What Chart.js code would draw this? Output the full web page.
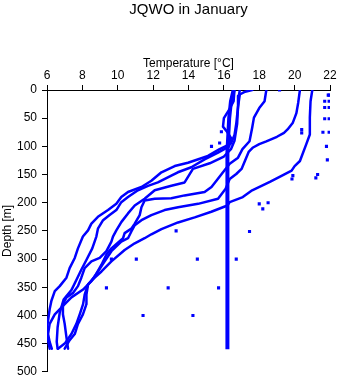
<!DOCTYPE html>
<html>
<head>
<meta charset="utf-8">
<script src="https://cdn.jsdelivr.net/npm/chart.js@4"></script>
<style>
  html, body { margin: 0; padding: 0; background: #fff; }
</style>
</head>
<body>
<canvas id="chart1" width="341" height="384"></canvas>
<script>
// CTD casts, January: temperature (degC) against depth (m)
var castATemp  = [16.9, 16.85, 16.8, 16.7, 16.6, 16.4, 15.76, 15.1, 13.97, 13.22, 12.47, 11.9, 11.34, 10.58, 10.2, 9.92, 9.45, 8.88, 8.51, 8.32, 8.03, 7.75, 7.57, 7.28, 7.1, 6.72, 6.44, 6.25, 6.15, 6.06, 6.0, 6.06, 6.15];
var castADepth = [0, 10, 30, 60, 80, 95, 105, 117, 129, 135, 146, 161, 172, 181, 190, 202, 213, 225, 237, 249, 260, 281, 298, 316, 333, 348, 357, 374, 389, 409, 421, 444, 459];

var castBTemp  = [16.6, 16.55, 16.3, 16.0, 15.95, 16.2, 16.4, 16.3, 15.67, 14.91, 14.16, 13.4, 13.03, 12.27, 11.71, 11.14, 10.58, 10.2, 9.92, 9.54, 9.17, 8.88, 8.79, 8.56, 8.22, 7.94, 7.66, 7.38, 6.94, 6.72, 6.6, 6.55, 6.6];
var castBDepth = [0, 20, 35, 50, 65, 75, 85, 100, 111, 123, 137, 146, 152, 164, 170, 178, 190, 199, 213, 222, 231, 246, 260, 281, 302, 319, 337, 355, 372, 395, 421, 447, 459];

var castCTemp  = [17.6, 17.2, 16.9, 16.8, 16.75, 16.6, 16.4, 16.0, 15.2, 14.25, 13.78, 13.03, 12.09, 11.52, 10.96, 10.58, 10.21, 9.92, 9.73, 9.64, 9.36, 8.98, 8.51, 8.13, 7.94, 7.75, 7.47, 7.1, 6.9, 6.9, 7.0, 7.1, 7.19];
var castCDepth = [0, 3, 8, 30, 60, 90, 105, 118, 130, 140, 164, 170, 178, 193, 205, 219, 234, 249, 260, 269, 286, 298, 304, 316, 333, 348, 360, 368, 380, 398, 415, 439, 459];

var castDTemp  = [18.4, 18.3, 18.0, 17.7, 17.6, 17.45, 17.05, 16.8, 16.33, 15.95, 15.6, 15.3, 14.91, 13.78, 13.03, 12.09, 11.52, 11.34, 11.24, 10.96, 10.77, 10.39, 10.3, 9.64, 9.36, 9.08, 8.7, 8.32, 8.23, 8.23, 8.03, 7.75, 7.57, 7.28, 7.0];
var castDDepth = [0, 20, 32, 49, 67, 91, 105, 120, 131, 146, 160, 172, 181, 187, 192, 193, 196, 208, 222, 237, 246, 254, 263, 281, 292, 310, 331, 345, 363, 380, 398, 415, 433, 444, 459];

var castETemp  = [20.3, 20.2, 20.1, 19.9, 19.6, 19.4, 19.0, 18.4, 18.0, 17.65, 17.4, 17.2, 17.0, 16.7, 16.33, 16.1, 15.67, 14.54, 13.41, 12.65, 11.9, 11.34, 10.96, 10.77, 10.58, 10.2, 9.64, 9.26, 8.88, 8.51, 8.04, 7.38, 6.81, 6.44, 6.15, 6.06, 6.15, 6.27];
var castEDepth = [0, 23, 41, 58, 70, 76, 83, 91, 96, 102, 110, 125, 140, 149, 158, 175, 193, 202, 208, 213, 222, 231, 240, 251, 263, 269, 286, 304, 322, 339, 354, 368, 386, 398, 415, 433, 447, 459];

var castFTemp  = [21.0, 20.9, 20.86, 20.86, 20.66, 20.3, 20.0, 19.83, 19.15, 18.6, 17.6, 17.07, 16.33, 16.2, 15.29, 14.35, 13.41, 12.47, 11.9, 11.52, 10.96, 10.39, 9.64, 9.08, 8.7, 8.32, 8.13, 8.04, 7.85, 7.66, 7.38, 7.0, 6.62];
var castFDepth = [0, 20, 49, 79, 96, 126, 135, 143, 154, 163, 178, 190, 199, 205, 216, 226, 235, 247, 256, 263, 272, 284, 304, 322, 333, 345, 363, 380, 398, 415, 433, 450, 459];

// well mixed cast, almost constant temperature
var castGTemp  = [16.55, 16.4, 16.3, 16.25, 16.2, 16.2, 16.18, 16.2, 16.2, 16.22, 16.2, 16.2];
var castGDepth = [0, 20, 50, 80, 110, 150, 200, 250, 300, 350, 400, 460];

// bottle samples (single points)
var bottleTemp  = [21.9, 21.95, 21.7, 21.95, 21.7, 21.95, 21.7, 21.95, 21.6, 21.95, 21.8, 21.85, 21.2, 21.3, 20.4, 20.4, 19.9, 19.85, 19.15, 18.0, 18.5, 18.2, 15.86, 15.76, 15.3, 17.45, 13.3, 9.64, 11.05, 14.5, 16.7, 9.36, 12.85, 15.7, 11.43, 14.25];
var bottleDepth = [9, 9, 20, 20, 31, 31, 51, 51, 75, 75, 100, 124, 156, 150, 70, 76, 152, 158, 0, 202, 200, 211, 74, 94, 100, 251, 250, 300, 300, 300, 300, 351, 351, 351, 400, 400];

var tempTicks = [6, 8, 10, 12, 14, 16, 18, 20, 22];
var depthTicks = [0, 50, 100, 150, 200, 250, 300, 350, 400, 450, 500];

var casts = [
  [castATemp, castADepth],
  [castBTemp, castBDepth],
  [castCTemp, castCDepth],
  [castDTemp, castDDepth],
  [castETemp, castEDepth],
  [castFTemp, castFDepth]
];

function pairs(t, d) {
  return t.map(function (v, i) { return { x: v, y: d[i] }; });
}

var font = { family: "'Liberation Sans', Arial, sans-serif", size: 12 };

var datasets = casts.map(function (c) {
  return {
    data: pairs(c[0], c[1]),
    showLine: true,
    borderColor: '#0000ff',
    borderWidth: 2.5,
    pointRadius: 0,
    borderJoinStyle: 'round',
    borderCapStyle: 'round',
    tension: 0
  };
});
datasets.push({
  data: pairs(castGTemp, castGDepth),
  showLine: true,
  borderColor: '#0000ff',
  borderWidth: 4,
  pointRadius: 0,
  tension: 0
});
datasets.push({
  data: pairs(bottleTemp, bottleDepth),
  showLine: false,
  pointStyle: 'rect',
  pointRadius: 2.2,
  borderWidth: 0,
  backgroundColor: '#0000ff'
});

new Chart("chart1", {
  type: "scatter",
  data: { datasets: datasets },
  options: {
    responsive: false,
    animation: false,
    layout: { padding: { left: 0, right: 11, top: 0, bottom: 9 } },
    plugins: {
      legend: { display: false },
      tooltip: { enabled: false },
      title: {
        display: true,
        text: 'JQWO in January',
        fullSize: false,
        color: '#000',
        font: { family: font.family, size: 15, weight: 'normal' },
        padding: { top: 1, bottom: 0 }
      }
    },
    scales: {
      x: {
        type: 'linear',
        position: 'top',
        min: 6,
        max: 22,
        afterBuildTicks: function (s) { s.ticks = tempTicks.map(function (v) { return { value: v }; }); },
        afterFit: function (s) { s.height = 71; },
        ticks: { color: '#000', font: font, padding: 2, maxRotation: 0 },
        grid: { drawOnChartArea: false, tickLength: 5, color: '#000' },
        border: { color: '#000' },
        title: { display: true, text: 'Temperature [°C]', color: '#000', font: font, padding: { top: 37, bottom: 0 } }
      },
      y: {
        type: 'linear',
        reverse: true,
        min: 0,
        max: 500,
        afterBuildTicks: function (s) { s.ticks = depthTicks.map(function (v) { return { value: v }; }); },
        afterFit: function (s) { s.width = 47; },
        ticks: { color: '#000', font: font, padding: 5 },
        grid: { drawOnChartArea: false, tickLength: 5, color: '#000' },
        border: { color: '#000' },
        title: { display: true, text: 'Depth [m]', color: '#000', font: font, padding: { top: 0, bottom: 0 } }
      }
    }
  }
});
</script>
</body>
</html>
